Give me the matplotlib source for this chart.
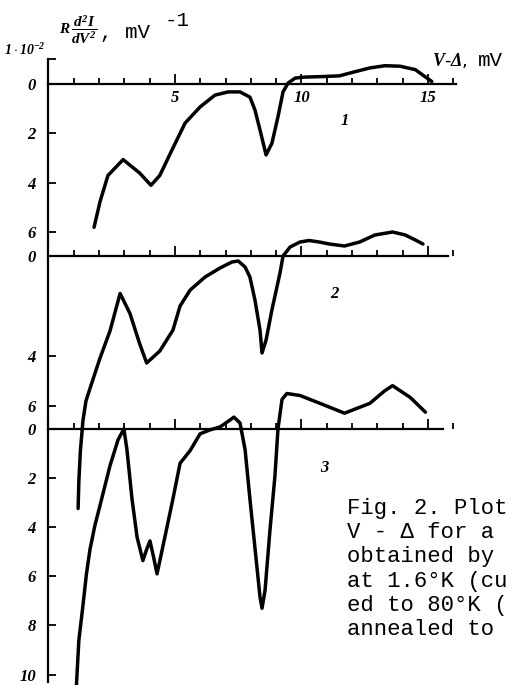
import matplotlib
matplotlib.use("Agg")
import matplotlib.pyplot as plt
from matplotlib.ticker import FixedLocator, NullFormatter

plt.rcParams['mathtext.fontset'] = 'custom'
plt.rcParams['mathtext.it'] = 'Liberation Serif:italic:bold'
plt.rcParams['mathtext.rm'] = 'Liberation Serif:italic:bold'

# curve 1 (V - delta in mV, -R d2I/dV2 in units of 1e-2 mV^-1)
x1 = [1.8, 2.04, 2.35, 2.95, 3.6, 4.05, 4.4, 4.88, 5.4, 5.99, 6.58, 7.1, 7.57, 7.96,
      8.16, 8.36, 8.6, 8.83, 9.07, 9.27, 9.47, 9.75, 10.14, 10.8, 11.5, 12.05, 12.7,
      13.3, 13.9, 14.5, 15.15]
y1 = [5.8, 4.75, 3.7, 3.06, 3.6, 4.1, 3.7, 2.67, 1.58, 0.93, 0.45, 0.32, 0.32, 0.53,
      1.05, 1.86, 2.87, 2.4, 1.33, 0.32, -0.04, -0.24, -0.28, -0.3, -0.33, -0.48, -0.65,
      -0.74, -0.72, -0.58, -0.1]

# curve 2
x2 = [1.17, 1.2, 1.26, 1.36, 1.48, 1.64, 2.03, 2.43, 2.83, 3.22, 3.6, 3.88, 4.4, 4.92,
      5.2, 5.6, 6.19, 6.78, 7.25, 7.5, 7.77, 7.96, 8.16, 8.36, 8.44, 8.6, 8.83, 9.15,
      9.27, 9.55, 9.94, 10.3, 10.7, 11.1, 11.7, 12.3, 12.9, 13.6, 14.1, 14.5, 14.8]
y2 = [10.1, 9.0, 7.8, 6.6, 5.8, 5.3, 4.1, 3.0, 1.5, 2.3, 3.5, 4.28, 3.8, 2.96,
      2.0, 1.36, 0.84, 0.48, 0.24, 0.2, 0.44, 0.84, 1.76, 2.96, 3.88, 3.36, 2.16, 0.68,
      0.0, -0.36, -0.56, -0.62, -0.56, -0.48, -0.4, -0.56, -0.84, -0.96, -0.84, -0.64, -0.48]

# curve 3
x3 = [1.1, 1.2, 1.36, 1.5, 1.64, 1.84, 2.04, 2.43, 2.75, 2.98, 3.1, 3.3, 3.5, 3.73,
      3.88, 4.01, 4.15, 4.29, 4.6, 4.92, 5.2, 5.6, 5.99, 6.38, 6.78, 7.17, 7.33, 7.57,
      7.77, 7.96, 8.16, 8.36, 8.44, 8.56, 8.75, 8.95, 9.07, 9.23, 9.42, 9.94, 10.73,
      11.7, 12.7, 13.3, 13.6, 14.3, 14.9]
y3 = [10.5, 8.6, 7.2, 5.9, 4.9, 3.9, 3.1, 1.5, 0.44, 0.0, 0.84, 2.84, 4.4, 5.36,
      4.9, 4.56, 5.2, 5.9, 4.4, 2.84, 1.4, 0.88, 0.2, 0.04, -0.08, -0.36, -0.48, -0.24,
      0.84, 2.84, 4.84, 6.84, 7.3, 6.56, 4.16, 1.92, 0.0, -1.2, -1.44, -1.36, -1.04,
      -0.64, -1.04, -1.56, -1.76, -1.28, -0.68]

curves = [(x1, y1), (x2, y2), (x3, y3)]
curve_names = ['1', '2', '3']
name_pos = [(11.7, 1.5), (11.3, 1.5), (10.9, 1.6)]
ylims = [(6.5, -1.0), (6.7, -0.4), (10.3, -0.2)]
ytick_sets = [[0, 2, 4, 6], [0, 4, 6], [0, 2, 4, 6, 8, 10]]
xline_ends = [16.1, 15.8, 15.6]

W, H = 510, 685
fig = plt.figure(figsize=(W / 100, H / 100), dpi=100)

# panel boxes in pixels: (top, bottom)
boxes = [(59.3, 244.6), (246.0, 423.5), (424.0, 682.0)]
left, right = 48.5, 48.5 + 16.6 * 25.3

lab_font = dict(family='Liberation Serif', style='italic', weight='bold', size=12)
mono = 'Liberation Mono'

for i, (x, y) in enumerate(curves):
    top, bot = boxes[i]
    ax = fig.add_axes([left / W, 1 - bot / H, (right - left) / W, (bot - top) / H])
    ax.patch.set_alpha(0)
    ax.set_xlim(0, 16.6)
    ax.set_ylim(*ylims[i])
    ax.plot(x, y, color='black', lw=2.5, solid_capstyle='round',
            solid_joinstyle='round', clip_on=False)

    ax.spines['top'].set_visible(False)
    ax.spines['right'].set_visible(False)
    ax.spines['bottom'].set_position(('data', 0))
    ax.spines['bottom'].set_bounds(0, xline_ends[i])
    ax.spines['left'].set_bounds(ylims[i][1], ylims[i][0])
    for s in ['bottom', 'left']:
        ax.spines[s].set_linewidth(1.6)

    ax.xaxis.set_major_locator(FixedLocator([5, 10, 15]))
    ax.xaxis.set_minor_locator(FixedLocator([1, 2, 3, 4, 6, 7, 8, 9, 11, 12, 13, 14, 16]))
    ax.tick_params(axis='x', which='major', direction='in', length=7, width=1.3, pad=4)
    ax.tick_params(axis='x', which='minor', direction='in', length=4, width=1.3)
    if i == 0:
        ax.set_xticklabels(['5', '10', '15'], fontdict=lab_font)
    else:
        ax.xaxis.set_major_formatter(NullFormatter())

    ax.set_yticks(ytick_sets[i])
    ax.set_yticklabels([str(t) for t in ytick_sets[i]], fontdict=lab_font)
    ax.tick_params(axis='y', direction='in', length=5.5, width=1.3, pad=9)

    ax.text(name_pos[i][0], name_pos[i][1], curve_names[i], fontdict=lab_font,
            ha='center', va='center')

    if i == 0:
        ax.set_yticks([-1.0], minor=True)
        ax.tick_params(axis='y', which='minor', direction='in', length=5.5, width=1.3)

# axis titles
fig.text(4 / W, 1 - 50 / H, r'$1\cdot10^{-2}$', fontsize=10, va='center')
fig.text(59 / W, 1 - 30 / H, r'$R\,\dfrac{d^2I}{dV^2}$', fontsize=11, va='center')
fig.text(100 / W, 1 - 38 / H, ', mV', family=mono, fontsize=15, va='baseline')
fig.text(165 / W, 1 - 20 / H, '-1', family=mono, fontsize=15, va='center')
fig.text(432 / W, 1 - 60 / H, r'$V$-$\Delta$,', fontsize=13, va='center')
fig.text(478 / W, 1 - 60 / H, 'mV', family=mono, fontsize=15, va='center')

# caption, cut by the right edge as in the scan
caption = ['Fig. 2. Plot', 'V - \u0394 for a', 'obtained by',
           'at 1.6\u00b0K (cu', 'ed to 80\u00b0K (', 'annealed to']
fig.text(347 / W, 1 - 498 / H, '\n'.join(caption), family=mono, fontsize=16,
         va='top', ha='left', linespacing=1.2)

fig.savefig('out.png', dpi=100)
